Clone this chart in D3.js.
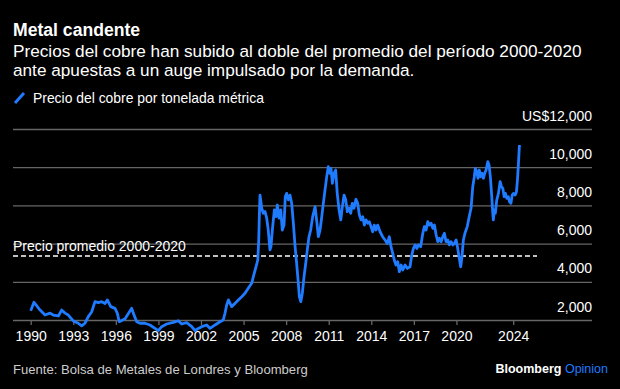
<!DOCTYPE html>
<html>
<head>
<meta charset="utf-8">
<script src="https://cdn.jsdelivr.net/npm/d3@7"></script>
<style>
  html, body { margin: 0; padding: 0; background: #000; }
  svg { display: block; font-family: "Liberation Sans", Arial, sans-serif; }
</style>
</head>
<body>
<svg width="620" height="389"></svg>
<script>
// Precio del cobre (US$/t)
const fechas = [
  1990.00, 1990.23, 1990.66, 1991.01, 1991.36, 1991.59, 1991.95, 1992.18, 1992.42, 1992.65,
  1993.00, 1993.35, 1993.59, 1993.82, 1994.06, 1994.30, 1994.53, 1994.76, 1995.00, 1995.24,
  1995.40, 1995.64, 1995.94, 1996.10, 1996.24, 1996.65, 1997.12, 1997.23, 1997.47, 1997.70,
  1998.05, 1998.40, 1998.76, 1998.99, 1999.23, 1999.58, 2000.05, 2000.40, 2000.64, 2000.99,
  2001.35, 2001.58, 2001.81, 2002.05, 2002.40, 2002.64, 2002.99, 2003.34, 2003.57, 2003.69,
  2003.81, 2003.93, 2004.16, 2004.40, 2004.63, 2004.87, 2005.10, 2005.33, 2005.57, 2005.69,
  2005.88, 2006.00, 2006.07, 2006.11, 2006.16, 2006.28, 2006.39, 2006.51, 2006.63, 2006.74,
  2006.86, 2006.93, 2007.05, 2007.17, 2007.29, 2007.38, 2007.50, 2007.62, 2007.73, 2007.85,
  2007.94, 2008.04, 2008.16, 2008.27, 2008.39, 2008.51, 2008.63, 2008.74, 2008.86, 2008.93,
  2009.03, 2009.14, 2009.26, 2009.38, 2009.49, 2009.61, 2009.73, 2009.87, 2010.04, 2010.16,
  2010.27, 2010.39, 2010.51, 2010.62, 2010.74, 2010.86, 2010.97, 2011.09, 2011.16, 2011.26,
  2011.37, 2011.49, 2011.60, 2011.73, 2011.85, 2011.96, 2012.08, 2012.20, 2012.31, 2012.43,
  2012.55, 2012.66, 2012.78, 2012.92, 2013.04, 2013.16, 2013.28, 2013.40, 2013.51, 2013.63,
  2013.75, 2013.86, 2013.98, 2014.10, 2014.21, 2014.33, 2014.45, 2014.62, 2014.80, 2014.97,
  2015.13, 2015.27, 2015.39, 2015.51, 2015.62, 2015.74, 2015.86, 2015.98, 2016.10, 2016.22,
  2016.38, 2016.54, 2016.73, 2016.85, 2016.97, 2017.09, 2017.21, 2017.32, 2017.48, 2017.63,
  2017.74, 2017.86, 2017.98, 2018.10, 2018.22, 2018.34, 2018.45, 2018.57, 2018.69, 2018.80,
  2018.92, 2019.04, 2019.15, 2019.27, 2019.39, 2019.50, 2019.62, 2019.74, 2019.86, 2019.98,
  2020.07, 2020.20, 2020.30, 2020.39, 2020.49, 2020.60, 2020.76, 2020.90, 2021.03, 2021.15,
  2021.26, 2021.33, 2021.43, 2021.52, 2021.61, 2021.71, 2021.80, 2021.90, 2022.00, 2022.09,
  2022.21, 2022.30, 2022.39, 2022.49, 2022.56, 2022.60, 2022.67, 2022.74, 2022.84, 2022.96,
  2023.08, 2023.17, 2023.27, 2023.36, 2023.45, 2023.55, 2023.65, 2023.74, 2023.84, 2023.93,
  2024.02, 2024.14, 2024.23, 2024.30, 2024.37, 2024.44
];
const precios = [
  2490, 2930, 2520, 2260, 2360, 2260, 2210, 2520, 2360, 2260,
  1950, 1830, 1690, 1830, 2175, 2430, 2960, 2910, 2960, 2860,
  3050, 2700, 2610, 2360, 1910, 2070, 2610, 2360, 1910, 1830,
  1830, 1740, 1560, 1440, 1650, 1790, 1880, 1960, 1790, 1860,
  1650, 1440, 1560, 1650, 1740, 1560, 1740, 1910, 2000, 2350,
  2790, 3050, 2700, 2870, 3050, 3220, 3400, 3660, 3920, 4270,
  4790, 5140, 6190, 7410, 8540, 7850, 7590, 7680, 7330, 6710,
  5670, 5840, 6890, 7760, 7410, 8020, 7330, 7760, 6710, 6970,
  8460, 8630, 8290, 8540, 8110, 7060, 5840, 4970, 3920, 3220,
  2960, 3400, 4270, 4970, 5670, 6360, 6710, 7410, 7930, 7150,
  6360, 6710, 7410, 8110, 8810, 9500, 10030, 9680, 9940, 9160,
  9680, 9850, 8630, 7760, 7240, 7930, 8540, 8290, 7670, 7850,
  7590, 8110, 7850, 8320, 8110, 7500, 7240, 7410, 6970, 7240,
  7070, 7150, 6890, 6620, 6970, 6710, 6970, 6620, 6360, 6190,
  6010, 6360, 5840, 5490, 5140, 4880, 5050, 4530, 4880, 4620,
  4880, 4700, 4790, 5400, 5750, 5930, 5750, 5930, 5840, 6540,
  6890, 6710, 7150, 6970, 7060, 6800, 6970, 6450, 6100, 6280,
  6100, 6360, 6540, 6100, 6190, 5930, 6100, 5930, 6010, 6190,
  5840, 5230, 4790, 5310, 6190, 6540, 6890, 7410, 7850, 8980,
  9500, 9940, 9770, 9420, 9850, 9500, 9680, 9420, 9700, 9850,
  10290, 10110, 9500, 8460, 7590, 7240, 7760, 7590, 8280, 8630,
  9240, 8980, 8890, 8460, 8630, 8370, 8460, 8190, 8110, 8540,
  8630, 8540, 8720, 9330, 10200, 11160
];
const promedio = 5350;
const anosEje = [1990, 1993, 1996, 1999, 2002, 2005, 2008, 2011, 2014, 2017, 2020, 2024];
const valoresEje = [2000, 4000, 6000, 8000, 10000, 12000];

const svg = d3.select("svg");
const azul = "#1f7bff";
const gris = "#666";

const x = d3.scaleLinear().domain([1990, 2024]).range([30.7, 513.2]);
const y = d3.scaleLinear().domain([2000, 12000]).range([320, 129]);

// textos
svg.append("text").attr("x", 13).attr("y", 36)
    .attr("fill", "#fff").attr("font-size", 17.6).attr("font-weight", "bold")
    .text("Metal candente");
svg.append("text").attr("x", 13).attr("y", 57)
    .attr("fill", "#fff").attr("font-size", 17.2)
    .text("Precios del cobre han subido al doble del promedio del período 2000-2020");
svg.append("text").attr("x", 13).attr("y", 76)
    .attr("fill", "#fff").attr("font-size", 17.2)
    .text("ante apuestas a un auge impulsado por la demanda.");

svg.append("line").attr("x1", 15).attr("y1", 103).attr("x2", 24).attr("y2", 93)
    .attr("stroke", azul).attr("stroke-width", 3);
svg.append("text").attr("x", 33).attr("y", 103)
    .attr("fill", "#fff").attr("font-size", 13.9)
    .text("Precio del cobre por tonelada métrica");

// eje y con rejilla
const gy = svg.append("g")
    .attr("transform", "translate(592,0)")
    .call(d3.axisLeft(y).tickValues(valoresEje).tickSize(579)
        .tickFormat(d => d === 12000 ? "US$12,000" : d3.format(",")(d)));
gy.select(".domain").remove();
gy.selectAll(".tick line").attr("stroke", gris).attr("stroke-width", 1.3);
gy.selectAll(".tick text")
    .attr("x", 0).attr("dy", -9).attr("text-anchor", "end")
    .attr("fill", "#fff").attr("font-size", 14).attr("font-family", null);

// eje x
const gx = svg.append("g")
    .attr("transform", "translate(0,320)")
    .call(d3.axisBottom(x).tickValues(anosEje).tickSize(5).tickPadding(6).tickFormat(d3.format("d")));
gx.select(".domain").remove();
gx.selectAll(".tick line").attr("stroke", gris).attr("stroke-width", 1.3);
gx.selectAll(".tick text").attr("fill", "#fff").attr("font-size", 14).attr("font-family", null);

// promedio 2000-2020
svg.append("line")
    .attr("x1", 13).attr("x2", 537)
    .attr("y1", y(promedio)).attr("y2", y(promedio))
    .attr("stroke", "#fff").attr("stroke-width", 1.5).attr("stroke-dasharray", "5,3");
svg.append("text").attr("x", 13).attr("y", y(promedio) - 5)
    .attr("fill", "#fff").attr("font-size", 14)
    .text("Precio promedio 2000-2020");

// serie
const linea = d3.line()
    .x((d, i) => x(fechas[i]))
    .y(d => y(d));
svg.append("path")
    .datum(precios)
    .attr("d", linea)
    .attr("fill", "none")
    .attr("stroke", azul)
    .attr("stroke-width", 2.8)
    .attr("stroke-linejoin", "round");

// pie
svg.append("text").attr("x", 13).attr("y", 374)
    .attr("fill", "#ccc").attr("font-size", 13.1)
    .text("Fuente: Bolsa de Metales de Londres y Bloomberg");
const marca = svg.append("text").attr("x", 608).attr("y", 373)
    .attr("text-anchor", "end").attr("font-size", 12.5);
marca.append("tspan").attr("fill", "#fff").attr("font-weight", "bold").text("Bloomberg ");
marca.append("tspan").attr("fill", azul).text("Opinion");
</script>
</body>
</html>
